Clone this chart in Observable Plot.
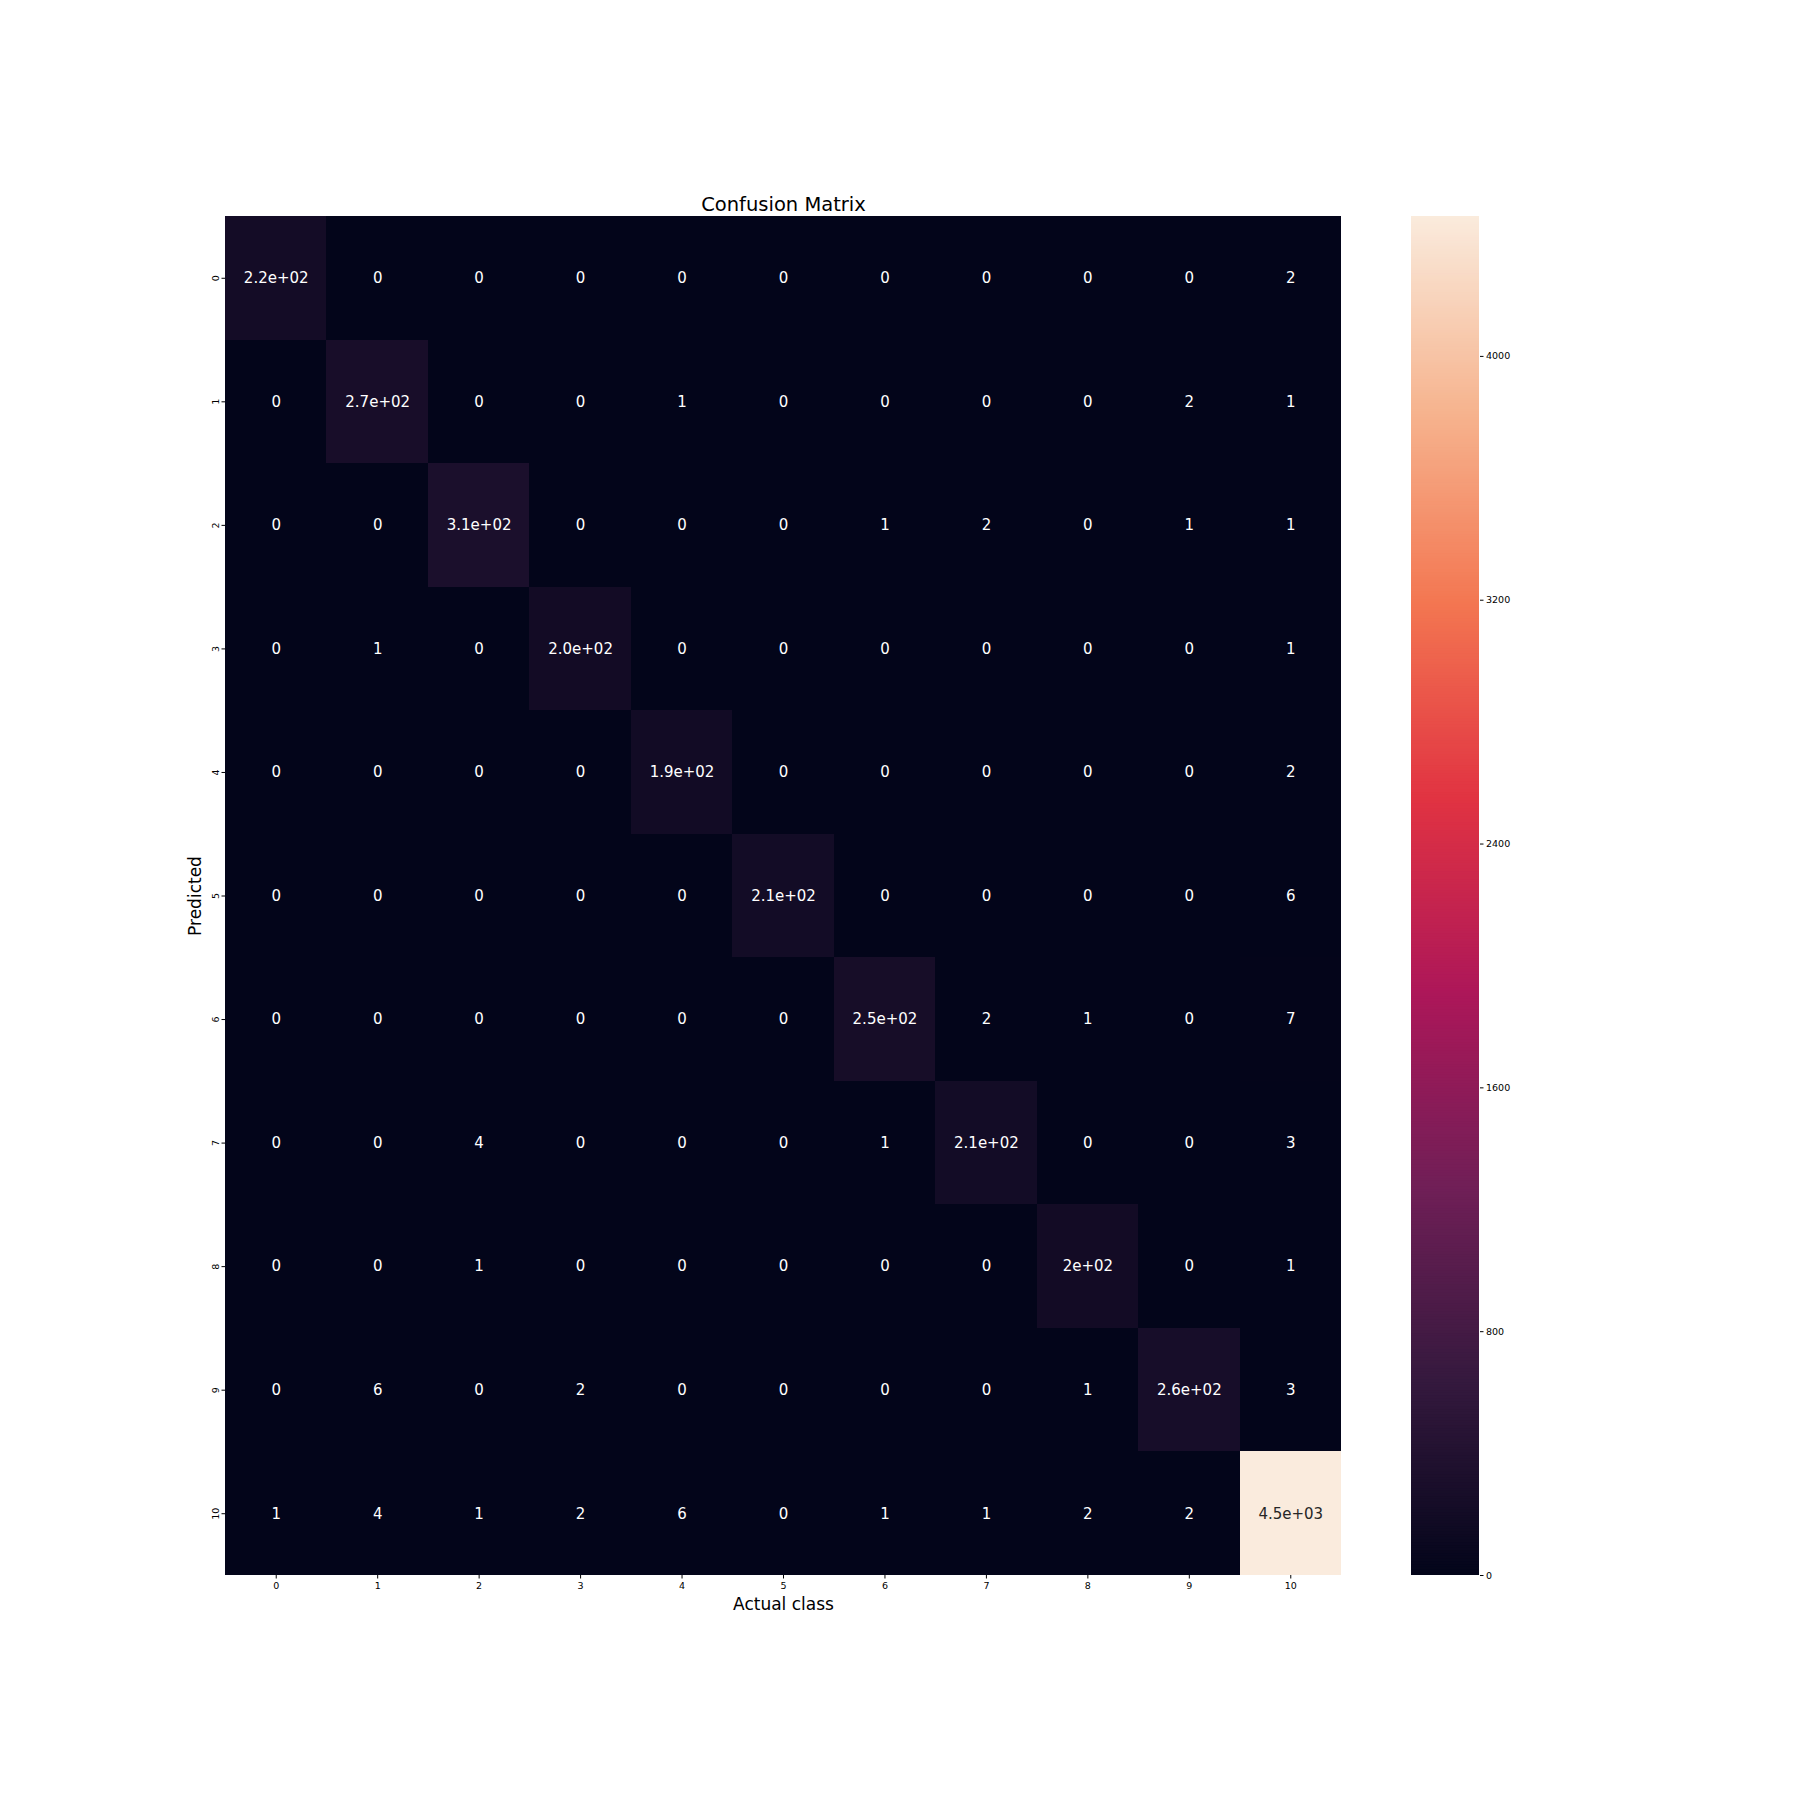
<!DOCTYPE html>
<html><head><meta charset="utf-8">
<script src="https://cdn.jsdelivr.net/npm/d3@7"></script>
<script src="https://cdn.jsdelivr.net/npm/@observablehq/plot@0.6"></script>
<style>
body{margin:0;background:#fff;}
#wrap{position:relative;width:1800px;height:1800px;font-family:"DejaVu Sans",sans-serif;}
#wrap svg{position:absolute;left:0;top:0;}
</style></head><body><div id="wrap"></div>
<script>
// ---- data ----
const classes = ["0","1","2","3","4","5","6","7","8","9","10"];
// rows = Predicted, columns = Actual class
const counts = [
  [220, 0, 0, 0, 0, 0, 0, 0, 0, 0, 2],
  [0, 270, 0, 0, 1, 0, 0, 0, 0, 2, 1],
  [0, 0, 310, 0, 0, 0, 1, 2, 0, 1, 1],
  [0, 1, 0, 200, 0, 0, 0, 0, 0, 0, 1],
  [0, 0, 0, 0, 190, 0, 0, 0, 0, 0, 2],
  [0, 0, 0, 0, 0, 210, 0, 0, 0, 0, 6],
  [0, 0, 0, 0, 0, 0, 250, 2, 1, 0, 7],
  [0, 0, 4, 0, 0, 0, 1, 210, 0, 0, 3],
  [0, 0, 1, 0, 0, 0, 0, 0, 200, 0, 1],
  [0, 6, 0, 2, 0, 0, 0, 0, 1, 260, 3],
  [1, 4, 1, 2, 6, 0, 1, 1, 2, 2, 4459]
];
const diagLabels = ["2.2e+02","2.7e+02","3.1e+02","2.0e+02","1.9e+02","2.1e+02","2.5e+02","2.1e+02","2e+02","2.6e+02","4.5e+03"];
const colorTicks = [0, 800, 1600, 2400, 3200, 4000];
const vmax = 4459;
const titleText = "Confusion Matrix";
const xLabel = "Actual class";
const yLabel = "Predicted";

// rocket colormap stops (equally spaced)
const rocketStops = ["#03051a","#35193e","#701f57","#ad1759","#e13342","#f37651","#f6b48f","#faebdd"];
const rocket = d3.piecewise(d3.interpolateRgb, rocketStops);

const cells = [];
counts.forEach((row, i) => row.forEach((v, j) => cells.push({
  pred: classes[i], actual: classes[j], value: v,
  label: i === j ? diagLabels[i] : String(v)
})));

const W = 1800, H = 1800;
const font = "DejaVu Sans";

const heat = Plot.plot({
  width: W, height: H,
  marginLeft: 225, marginRight: 459, marginTop: 216, marginBottom: 225,
  style: {fontFamily: font, background: "transparent", overflow: "visible"},
  x: {domain: classes, padding: 0, round: false, label: null},
  y: {domain: classes, padding: 0, round: false, label: null},
  color: {type: "linear", domain: [0, vmax], interpolate: rocket},
  marks: [
    Plot.cell(cells, {x: "actual", y: "pred", fill: "value", inset: 0, shapeRendering: "crispEdges"}),
    Plot.text(cells.filter(d => d.value / vmax <= 0.6), {x: "actual", y: "pred", text: "label", fill: "#ffffff", fontSize: 15}),
    Plot.text(cells.filter(d => d.value / vmax > 0.6), {x: "actual", y: "pred", text: "label", fill: "#262626", fontSize: 15}),
    Plot.axisX({anchor: "bottom", tickSize: 3.5, tickPadding: 3.5, fontSize: 9.5, label: null}),
    Plot.axisY({anchor: "left", tickSize: 3.5, tickPadding: 3, fontSize: 9.5, tickRotate: -90, label: null}),
    Plot.text([titleText], {frameAnchor: "top", text: d => d, dy: -6, lineAnchor: "bottom", fontSize: 19.5, fill: "#000"}),
    Plot.text([xLabel], {frameAnchor: "bottom", text: d => d, dy: 34, lineAnchor: "bottom", fontSize: 17, fill: "#000"}),
    Plot.text([yLabel], {frameAnchor: "left", text: d => d, dx: -30, rotate: -90, textAnchor: "middle", lineAnchor: "middle", fontSize: 17, fill: "#000"})
  ]
});

const nSteps = 500;
const stepSize = vmax / nSteps;
const steps = d3.range(nSteps).map(i => ({y1: i * stepSize, y2: Math.min(vmax, (i + 1.7) * stepSize), mid: (i + 0.5) * stepSize}));
const cbar = Plot.plot({
  width: W, height: H,
  marginLeft: 1411, marginRight: 321, marginTop: 216, marginBottom: 225,
  style: {fontFamily: font, background: "transparent", overflow: "visible"},
  x: {domain: [0, 1], axis: null},
  y: {domain: [0, vmax], axis: null},
  color: {type: "linear", domain: [0, vmax], interpolate: rocket},
  marks: [
    Plot.rect(steps, {x1: 0, x2: 1, y1: "y1", y2: "y2", fill: "mid", inset: 0}),
    Plot.axisY({anchor: "right", ticks: colorTicks, tickFormat: d => String(d), tickSize: 3.5, tickPadding: 3, fontSize: 9.5, label: null})
  ]
});

const wrap = document.getElementById("wrap");
wrap.appendChild(heat);
wrap.appendChild(cbar);
</script></body></html>
